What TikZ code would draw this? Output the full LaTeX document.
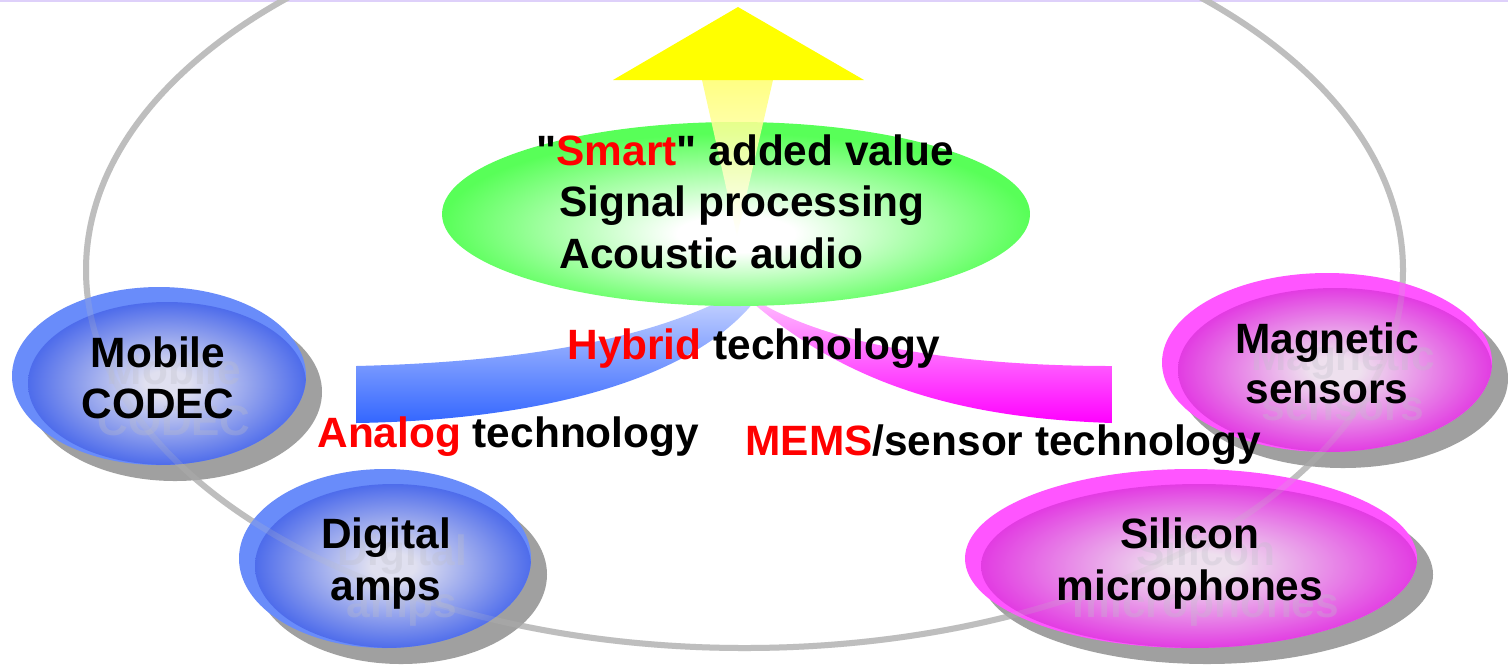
\documentclass[tikz,border=0pt]{standalone}
\usepackage{fontspec}
\setmainfont{Liberation Sans}
\newfontfamily\lblfam{Liberation Sans}
\definecolor{ringgray}{RGB}{190,190,190}
\definecolor{shadowgray}{RGB}{160,160,160}
\definecolor{topline}{RGB}{222,208,250}
\definecolor{tred}{RGB}{255,0,0}
\definecolor{ghostgray}{RGB}{190,190,200}
\definecolor{gedge}{RGB}{88,255,88}
\definecolor{bout}{RGB}{105,140,250}
\definecolor{bcen}{RGB}{224,224,240}
\definecolor{bedge}{RGB}{78,108,235}
\definecolor{mout}{RGB}{255,85,255}
\definecolor{mcen}{RGB}{238,224,238}
\definecolor{medge}{RGB}{226,60,226}
\definecolor{bt}{RGB}{232,236,255}
\definecolor{bm}{RGB}{176,190,255}
\definecolor{bb}{RGB}{51,102,255}
\definecolor{mt}{RGB}{255,232,255}
\definecolor{mm}{RGB}{255,160,255}
\definecolor{mb}{RGB}{255,0,255}
\definecolor{yhead}{RGB}{255,255,0}
\definecolor{ystem}{RGB}{255,255,110}
\pgfdeclareradialshading{greenball}{\pgfpoint{0bp}{-6bp}}{color(0bp)=(white); color(5bp)=(white); color(25bp)=(gedge); color(50bp)=(gedge)}
\pgfdeclareradialshading{blueball}{\pgfpoint{0bp}{0bp}}{color(0bp)=(bcen); color(4bp)=(bcen); color(25bp)=(bedge); color(50bp)=(bedge)}
\pgfdeclareradialshading{magball}{\pgfpoint{0bp}{0bp}}{color(0bp)=(mcen); color(4bp)=(mcen); color(25bp)=(medge); color(50bp)=(medge)}
\newcommand{\dball}[8]{%
  \begin{scope}[shift={(#1,#2)}]
    \fill[shadowgray] (16,16) ellipse [x radius=#3, y radius=#4];
    \fill[#7] (0,0) ellipse [x radius=#3, y radius=#4];
    \begin{scope}
      \clip (0,0) ellipse [x radius=#3, y radius=#4];
      \shade[shading=#8] (8,7.5) ellipse [x radius=#5, y radius=#6];
    \end{scope}
  \end{scope}}
\newcommand{\lblfont}{\lblfam\fontsize{21.2pt}{25pt}\selectfont\bfseries}
\newcommand{\sq}{\XeTeXglyph\the\XeTeXcharglyph"22\relax}
\tikzset{
  lbl/.style={font=\lblfont, inner sep=0pt, anchor=base west, text=black},
  ctr/.style={font=\lblfont, inner sep=0pt, anchor=base, text=black},
  ghost/.style={font=\lblfont, inner sep=0pt, anchor=base, text=ghostgray},
  ring/.style={draw=ringgray, line width=3pt}
}
\begin{document}
\begin{tikzpicture}[x=0.5pt,y=-0.5pt]
\useasboundingbox (0,0) rectangle (1508,666);
\fill[white] (0,0) rectangle (1508,666);
\draw[topline, line width=1pt] (0,1) -- (1508,1);
% big ring
\draw[ring] (744.5,270) ellipse [x radius=329.25pt, y radius=189pt];
% balls
\dball{159}{376}{73.5pt}{44.5pt}{69.5pt}{40.75pt}{bout}{blueball}
\dball{385}{558.5}{73pt}{44.75pt}{69pt}{41pt}{bout}{blueball}
\dball{1327}{362.5}{82.5pt}{44.75pt}{78.5pt}{41pt}{mout}{magball}
\dball{1191}{558.5}{113pt}{44.75pt}{109pt}{41pt}{mout}{magball}
% ring seen through the balls
\draw[ring, draw opacity=0.2] (744.5,270) ellipse [x radius=329.25pt, y radius=189pt];
% swooshes
\shade[top color=bt, middle color=bm, bottom color=bb]
  (356,366) .. controls (520,362) and (680,340) .. (775,268)
  .. controls (730,370) and (560,420) .. (356,423) -- cycle;
\shade[top color=mt, middle color=mm, bottom color=mb]
  (720,272) .. controls (790,345) and (960,366) .. (1112,366)
  -- (1112,423) .. controls (960,418) and (830,385) .. (720,272) -- cycle;
% green ellipse
\shade[shading=greenball] (736,214) ellipse [x radius=147pt, y radius=46pt];
% yellow arrow
\shade[top color=ystem, bottom color=white, fill opacity=0.85]
  (702,80) -- (773,80) -- (737,236) -- cycle;
\fill[yhead] (613,80) -- (864,80) -- (738,7) -- cycle;
% ghost texts
\begin{scope}[opacity=0.3]
\node[ghost] (gmob) at (174,384) {Mobile};
\node[ghost] (gcod) at (174,435) {CODEC};
\node[ghost] (gdig) at (402,565) {Digital};
\node[ghost] (gamp) at (402,617) {amps};
\node[ghost] (gmag) at (1343,370) {Magnetic};
\node[ghost] (gsen) at (1343,420) {sensors};
\node[ghost] (gsil) at (1206,565) {Silicon};
\node[ghost] (gmic) at (1206,617) {microphones};
\end{scope}
% ball texts
\node[ctr] (mob) at (158,367) {Mobile};
\node[ctr] (cod) at (158,418) {CODEC};
\node[ctr] (dig) at (386,548) {Digital};
\node[ctr] (amp) at (386,600) {amps};
\node[ctr] (mag) at (1327,353) {Magnetic};
\node[ctr] (sen) at (1327,403) {sensors};
\node[ctr] (sil) at (1190,548) {Silicon};
\node[ctr] (mic) at (1190,600) {microphones};
% central texts
\node[lbl] (smart) at (536,165) {\sq\textcolor{tred}{Smart}\sq{} added value};
\node[lbl] (sig) at (559,216) {Signal processing};
\node[lbl] (aco) at (559,268) {Acoustic audio};
\node[lbl] (hyb) at (567,359) {\textcolor{tred}{Hybrid} technology};
\node[lbl] (ana) at (317,447) {\textcolor{tred}{Analog} technology};
\node[lbl] (mems) at (745,455) {\textcolor{tred}{MEMS}/sensor technology};
\end{tikzpicture}
\end{document}
